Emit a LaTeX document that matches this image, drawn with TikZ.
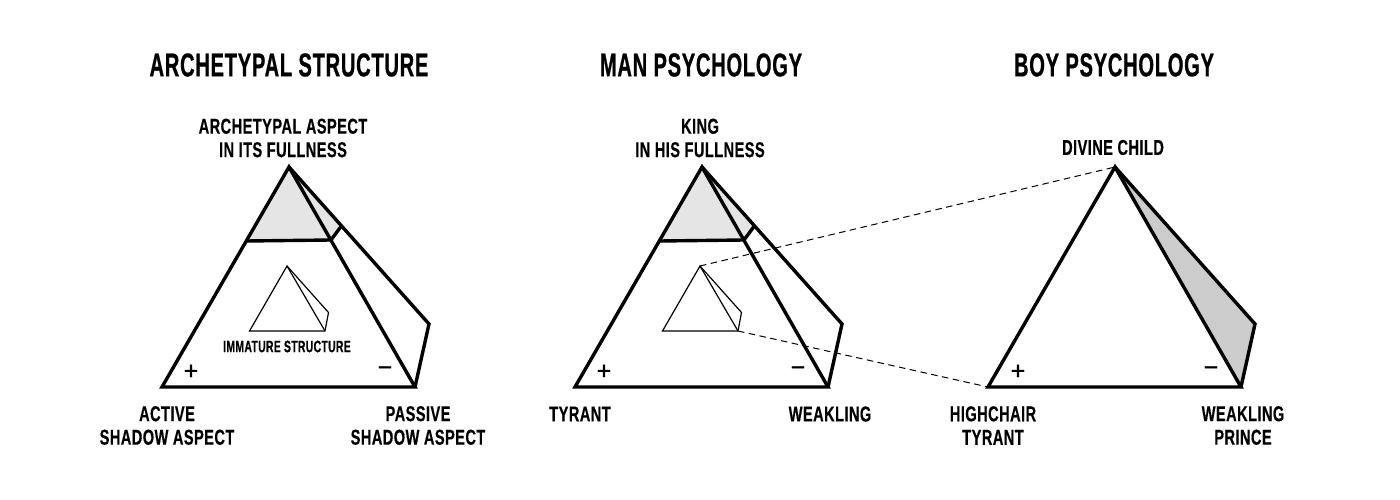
\documentclass[tikz,border=0pt]{standalone}
\usepackage{fontspec}
\setmainfont{Liberation Sans Bold}[FakeStretch=0.68,LetterSpace=2,FakeBold=0.4]
\newfontfamily\titlefont{Liberation Sans Bold}[FakeStretch=0.61,LetterSpace=2.2,FakeBold=0.6]
\newfontfamily\smallfont{Liberation Sans Bold}[FakeStretch=0.63,LetterSpace=2,FakeBold=0.4]
\newfontfamily\signfont{Liberation Sans}[FakeBold=1.2]
\begin{document}
\begin{tikzpicture}[x=1pt,y=-1pt,
  heavy/.style={draw=black,line width=3.4pt,line join=miter,miter limit=3},
  thin line/.style={draw=black,line width=1.2pt,line join=miter},
  link/.style={draw=black,line width=1pt,dash pattern=on 6.5pt off 4.5pt},
  title/.style={font=\fontsize{33}{36}\titlefont,align=center},
  lab/.style={font=\fontsize{21.5}{23.5}\selectfont,align=center},
  small/.style={font=\fontsize{16.5}{18}\smallfont,align=center},
  sign/.style={font=\fontsize{25}{25}\signfont}]
\useasboundingbox (0,0) rectangle (1400,500);
\fill[white] (0,0) rectangle (1400,500);

% --- named corners of the three pyramids
\foreach \p/\o in {a/0,b/413,c/826}{
  \coordinate (\p top) at (289+\o,167);
  \coordinate (\p bl) at (162+\o,387);
  \coordinate (\p br) at (415+\o,387);
  \coordinate (\p back) at (429+\o,324);
  \coordinate (\p sl) at (246.5+\o,241);
  \coordinate (\p sr) at (331+\o,240);
  \coordinate (\p sb) at (341+\o,226.5);
}
\foreach \p/\o in {a/0,b/413}{
  \coordinate (\p itop) at (287+\o,266);
  \coordinate (\p ibl) at (249.5+\o,331);
  \coordinate (\p ibr) at (325+\o,331);
  \coordinate (\p iback) at (328.5+\o,312.5);
  \fill[black!10] (\p top) -- (\p sl) -- (\p sr) -- (\p sb) -- cycle;
  \draw[heavy] (\p sl) -- (\p sr) -- (\p sb);
  \draw[thin line] (\p itop) -- (\p ibl) -- (\p ibr) -- (\p iback) -- cycle;
  \draw[thin line] (\p itop) -- (\p ibr);
}
\fill[black!20] (ctop) -- (cbr) -- (cback) -- cycle;
\foreach \p in {a,b,c}{
  \draw[heavy] (\p top) -- (\p bl) -- (\p br) -- cycle;
  \draw[heavy] (\p top) -- (\p back) -- (\p br);
}
\draw[link] (bitop) -- (ctop);
\draw[link] (bibr) -- (cbl);

% --- titles
\node[title] (t1) at (289,65) {ARCHETYPAL STRUCTURE};
\node[title] (t2) at (701,65) {MAN PSYCHOLOGY};
\node[title] (t3) at (1114,65) {BOY PSYCHOLOGY};

% --- labels
\node[lab] (l1) at (283,138) {ARCHETYPAL ASPECT\\IN ITS FULLNESS};
\node[lab] (l2) at (167,425.5) {ACTIVE\\SHADOW ASPECT};
\node[lab] (l3) at (418,425.5) {PASSIVE\\SHADOW ASPECT};
\node[small] (l4) at (287,346.5) {IMMATURE STRUCTURE};
\node[lab] (m1) at (700,138) {KING\\IN HIS FULLNESS};
\node[lab] (m2) at (580,414) {TYRANT};
\node[lab] (m3) at (830,414) {WEAKLING};
\node[lab] (b1) at (1113,147.5) {DIVINE CHILD};
\node[lab] (b2) at (993,425.5) {HIGHCHAIR\\TYRANT};
\node[lab] (b3) at (1243,425.5) {WEAKLING\\PRINCE};

% --- signs
\node[sign] (p1) at (191,372) {+};
\node[sign] (p2) at (604,372) {+};
\node[sign] (p3) at (1018,372) {+};
\node[sign] (n1) at (385,371) {\char"2212};
\node[sign] (n2) at (798,371) {\char"2212};
\node[sign] (n3) at (1211,371) {\char"2212};
\end{tikzpicture}
\end{document}
